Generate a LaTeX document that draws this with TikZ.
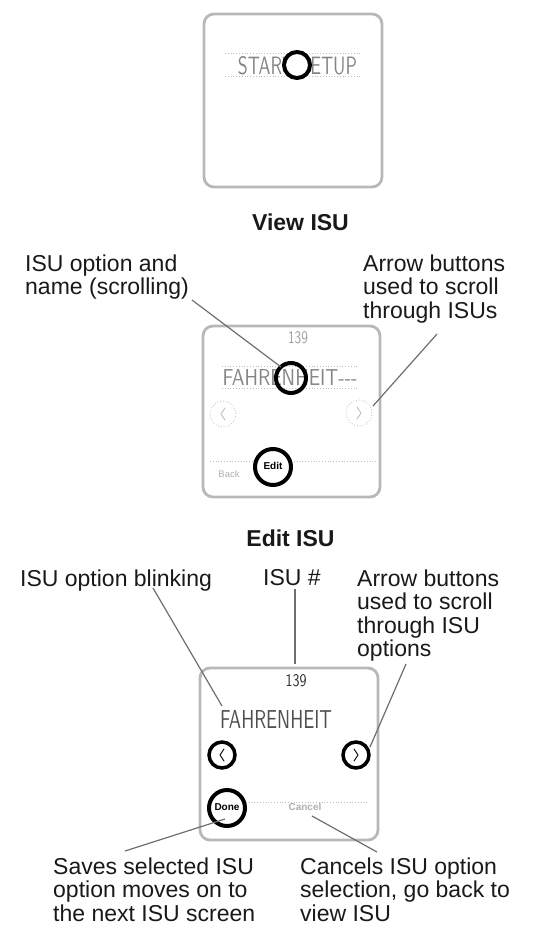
\documentclass[tikz,border=0pt]{standalone}
\usepackage{fontspec}
\setmainfont{Liberation Sans}
\usepackage{graphicx}
\usetikzlibrary{calc}
\definecolor{framegray}{HTML}{B8B8B8}
\definecolor{leadgray}{HTML}{6E6E6E}
\definecolor{lcdgray}{HTML}{858585}
\definecolor{lcdlight}{HTML}{A0A0A0}
\definecolor{lcddark}{HTML}{303030}
\definecolor{dotgray}{HTML}{BDBDBD}
\definecolor{txtgray}{HTML}{B0B0B0}
\begin{document}
\begin{tikzpicture}[x=1pt,y=-1pt,
  screen/.style={draw=framegray,line width=2.8pt,rounded corners=10pt},
  ring/.style={circle,draw=black,line width=4pt,fill=white,inner sep=0pt},
  openring/.style={circle,draw=black,line width=4pt,inner sep=0pt},
  dotring/.style={circle,draw=dotgray,line width=0.8pt,dotted,inner sep=0pt},
  dotline/.style={draw=dotgray,line width=0.8pt,dotted},
  lead/.style={draw=leadgray,line width=1.2pt},
  label/.style={font=\fontsize{23}{23.5}\selectfont,align=left,inner sep=0pt,anchor=north west,text=black!90},
  title/.style={font=\fontsize{23}{23.5}\selectfont\bfseries,inner sep=0pt,anchor=base,text=black!90},
  lcd/.style={inner sep=0pt},
  btn/.style={font=\fontsize{10}{11}\selectfont\bfseries,inner sep=0pt},
  chev/.style={line width=0.9pt,line cap=round,line join=round}
]
\useasboundingbox (0,0) rectangle (558,945);

% ---------- top screen ----------
\draw[screen] (204,14) rectangle (382,187);
\draw[dotline] (225,53) -- (362,53);
\draw[dotline] (225,76) -- (362,76);
\node[lcd,text=lcdgray] (st) at (297.5,66) {\resizebox{119pt}{18pt}{\sffamily START SETUP}};
\node[ring,minimum size=26pt] (r1) at (297,65) {};

\node[title] (view) at (300.5,230) {View ISU};

% ---------- middle screen ----------
\draw[screen] (203,326) rectangle (380,497);
\node[lcd,text=lcdlight] (n139a) at (298,338) {\resizebox{20pt}{12pt}{\sffamily 139}};
\draw[dotline] (222,366) -- (358,366);
\draw[dotline] (222,388) -- (358,388);
\node[lcd,text=lcdgray] (fa) at (290,377) {\resizebox{135pt}{16pt}{\sffamily FAHRENHEIT{-}{-}{-}}};
\node[openring,minimum size=30pt] (r2) at (291,378) {};
\node[dotring,minimum size=26pt] (la) at (223,414) {};
\node[dotring,minimum size=26pt] (ra) at (359,413) {};
\draw[chev,dotgray] ($(la)+(2,-6)$) -- ($(la)+(-2,0)$) -- ($(la)+(2,6)$);
\draw[chev,dotgray] ($(ra)+(-2,-6)$) -- ($(ra)+(2,0)$) -- ($(ra)+(-2,6)$);
\draw[dotline] (210,461) -- (378,461);
\node[font=\fontsize{9.5}{10}\selectfont,text=txtgray,inner sep=0pt] (back) at (229,474) {Back};
\node[ring,minimum size=36pt] (edit) at (273,467) {};
\node[btn] (editt) at (273,466) {Edit};

\node[title] (edtitle) at (290.5,546) {Edit ISU};

% ---------- bottom screen ----------
\draw[screen] (200,668) rectangle (378,840);
\node[lcd,text=lcddark] (n139b) at (296,681) {\resizebox{21pt}{12pt}{\sffamily 139}};
\node[lcd,text=lcddark!85] (fb) at (276,719) {\resizebox{112pt}{18pt}{\sffamily FAHRENHEIT}};
\node[ring,line width=3.5pt,minimum size=26pt] (lb) at (222,755) {};
\node[ring,line width=3.5pt,minimum size=26pt] (rb) at (356,755) {};
\draw[chev,black] ($(lb)+(2,-6)$) -- ($(lb)+(-2,0)$) -- ($(lb)+(2,6)$);
\draw[chev,black] ($(rb)+(-2,-6)$) -- ($(rb)+(2,0)$) -- ($(rb)+(-2,6)$);
\draw[dotline] (246,802) -- (367,802);
\node[ring,minimum size=36pt] (done) at (227,808) {};
\node[btn] (donet) at (227,807) {Done};
\node[font=\fontsize{10}{11}\selectfont\bfseries,text=txtgray,inner sep=0pt] (cancel) at (305,807) {Cancel};

% ---------- labels ----------
\node[label] (l1) at (25,254.2) {ISU option and\\name (scrolling)};
\node[label] (l2) at (363,254.2) {Arrow buttons\\used to scroll\\through ISUs};
\node[label] (l3) at (20,569.2) {ISU option blinking};
\node[label] (l4) at (263,569.2) {ISU \#};
\node[label] (l5) at (357,569.2) {Arrow buttons\\used to scroll\\through ISU\\options};
\node[label] (l6) at (53,857.2) {Saves selected ISU\\option moves on to\\the next ISU screen};
\node[label] (l7) at (300,857.2) {Cancels ISU option\\selection, go back to\\view ISU};

% ---------- leader lines ----------
\coordinate (a1) at (192,300);
\coordinate (b1) at (281,367);
\coordinate (a2) at (437,334);
\coordinate (b2) at (373,406);
\coordinate (a3) at (153,588);
\coordinate (b3) at (222,706);
\coordinate (a4) at (295,589);
\coordinate (b4) at (295,664);
\coordinate (a5) at (406,664);
\coordinate (b5) at (370,747);
\coordinate (a6) at (125,851);
\coordinate (b6) at (225,819);
\coordinate (a7) at (377,852);
\coordinate (b7) at (312,816);
\draw[lead] (a1) -- (b1);
\draw[lead] (a2) -- (b2);
\draw[lead] (a3) -- (b3);
\draw[lead] (a4) -- (b4);
\draw[lead] (a5) -- (b5);
\draw[lead] (a6) -- (b6);
\draw[lead] (a7) -- (b7);
\end{tikzpicture}
\end{document}
